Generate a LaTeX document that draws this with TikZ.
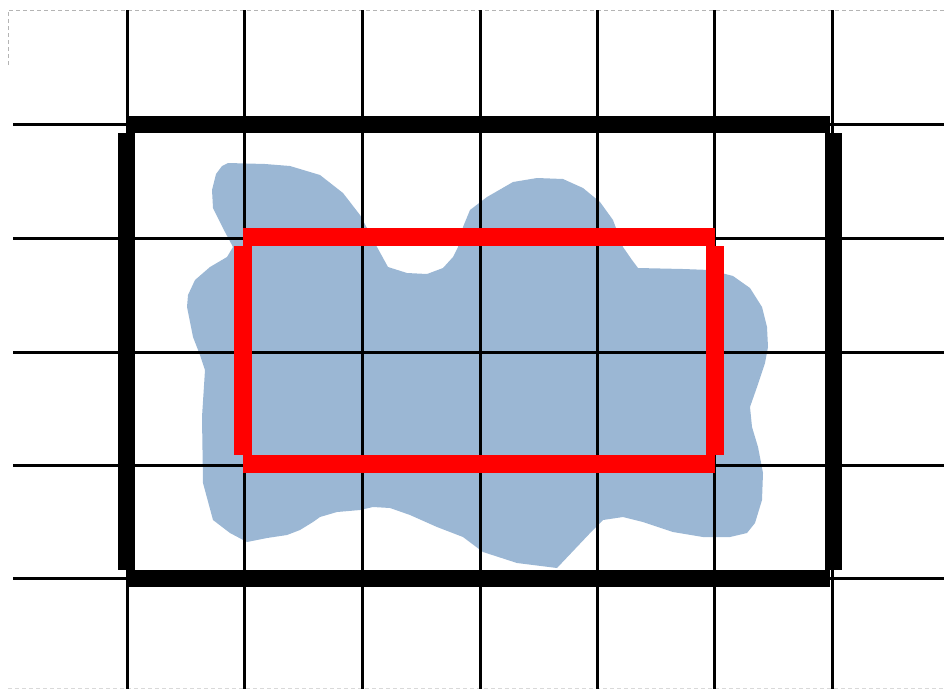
\documentclass[tikz,border=0pt]{standalone}
\usepackage{tikz}
\usetikzlibrary{positioning, calc, backgrounds}
\definecolor{blobblue}{HTML}{9BB7D4}
\definecolor{boxred}{HTML}{FF0000}
\definecolor{sheetgray}{HTML}{B4B4B4}

\begin{document}
\begin{tikzpicture}[
    x=1pt, y=-1pt,
    gridline/.style={draw=black, line width=3pt},
    outer_edge/.style={draw=black, line width=17pt, line cap=butt},
    inner_edge/.style={draw=boxred, line width=18pt, line cap=butt},
    blob/.style={fill=blobblue, draw=none},
    sheet/.style={draw=sheetgray, line width=0.8pt, dash pattern=on 4pt off 3pt}
]
\useasboundingbox (0,0) rectangle (944,689);

% slide border
\coordinate (s1) at (8,65);
\coordinate (s2) at (8,10);
\coordinate (s3) at (944,10);
\draw[sheet] (s1) -- (s2) -- (s3);
\draw[sheet, draw=sheetgray!50] (8,688) -- (944,688);

% region
\path[blob] (222,166) -- (228,163) -- (265,164) -- (290,166) -- (320,175) -- (343,193)
  -- (360,215) -- (377,247) -- (388,267) -- (407,273) -- (427,274) -- (443,268)
  -- (453,257) -- (458,247) -- (463,227) -- (470,210) -- (487,197) -- (513,182)
  -- (537,178) -- (563,179) -- (583,188) -- (600,202) -- (613,220) -- (623,247)
  -- (632,260) -- (638,268) -- (683,269) -- (710,270) -- (733,276) -- (750,288)
  -- (762,307) -- (767,327) -- (768,347) -- (765,363) -- (757,387) -- (750,407)
  -- (752,427) -- (758,447) -- (763,473) -- (762,500) -- (755,523) -- (747,533)
  -- (730,537) -- (703,537) -- (673,532) -- (643,522) -- (623,517) -- (603,520)
  -- (593,530) -- (557,568) -- (517,563) -- (483,552) -- (463,537) -- (437,527)
  -- (410,515) -- (390,508) -- (373,507) -- (360,510) -- (337,512) -- (320,517)
  -- (313,522) -- (300,530) -- (287,535) -- (267,538) -- (247,542) -- (230,533)
  -- (213,520) -- (203,483) -- (202,417) -- (205,370) -- (200,355) -- (193,337)
  -- (187,307) -- (188,295) -- (195,280) -- (210,267) -- (227,257) -- (233,247)
  -- (225,232) -- (213,208) -- (212,190) -- (216,174) -- cycle;

% grid
\foreach \gx in {127,244,362,480,597,714,832}
  \draw[gridline] (\gx,10) -- (\gx,689);
\foreach \gy in {124,238,352,465,578}
  \draw[gridline] (13,\gy) -- (944,\gy);

% outer box
\coordinate (otl) at (127,124.5);
\coordinate (otr) at (830,124.5);
\coordinate (obl) at (127,578);
\coordinate (obr) at (830,578);
\draw[outer_edge] (otl) -- (otr);
\draw[outer_edge] (obl) -- (obr);
\draw[outer_edge] (126,133) -- (126,569.5);
\draw[outer_edge] (833,133) -- (833,569.5);

% inner box
\coordinate (itl) at (243,237);
\coordinate (itr) at (715,237);
\coordinate (ibl) at (243,464);
\coordinate (ibr) at (715,464);
\draw[inner_edge] (itl) -- (itr);
\draw[inner_edge] (ibl) -- (ibr);
\draw[inner_edge] (243,246) -- (243,455);
\draw[inner_edge] (714.5,246) -- (714.5,455);

\end{tikzpicture}
\end{document}
